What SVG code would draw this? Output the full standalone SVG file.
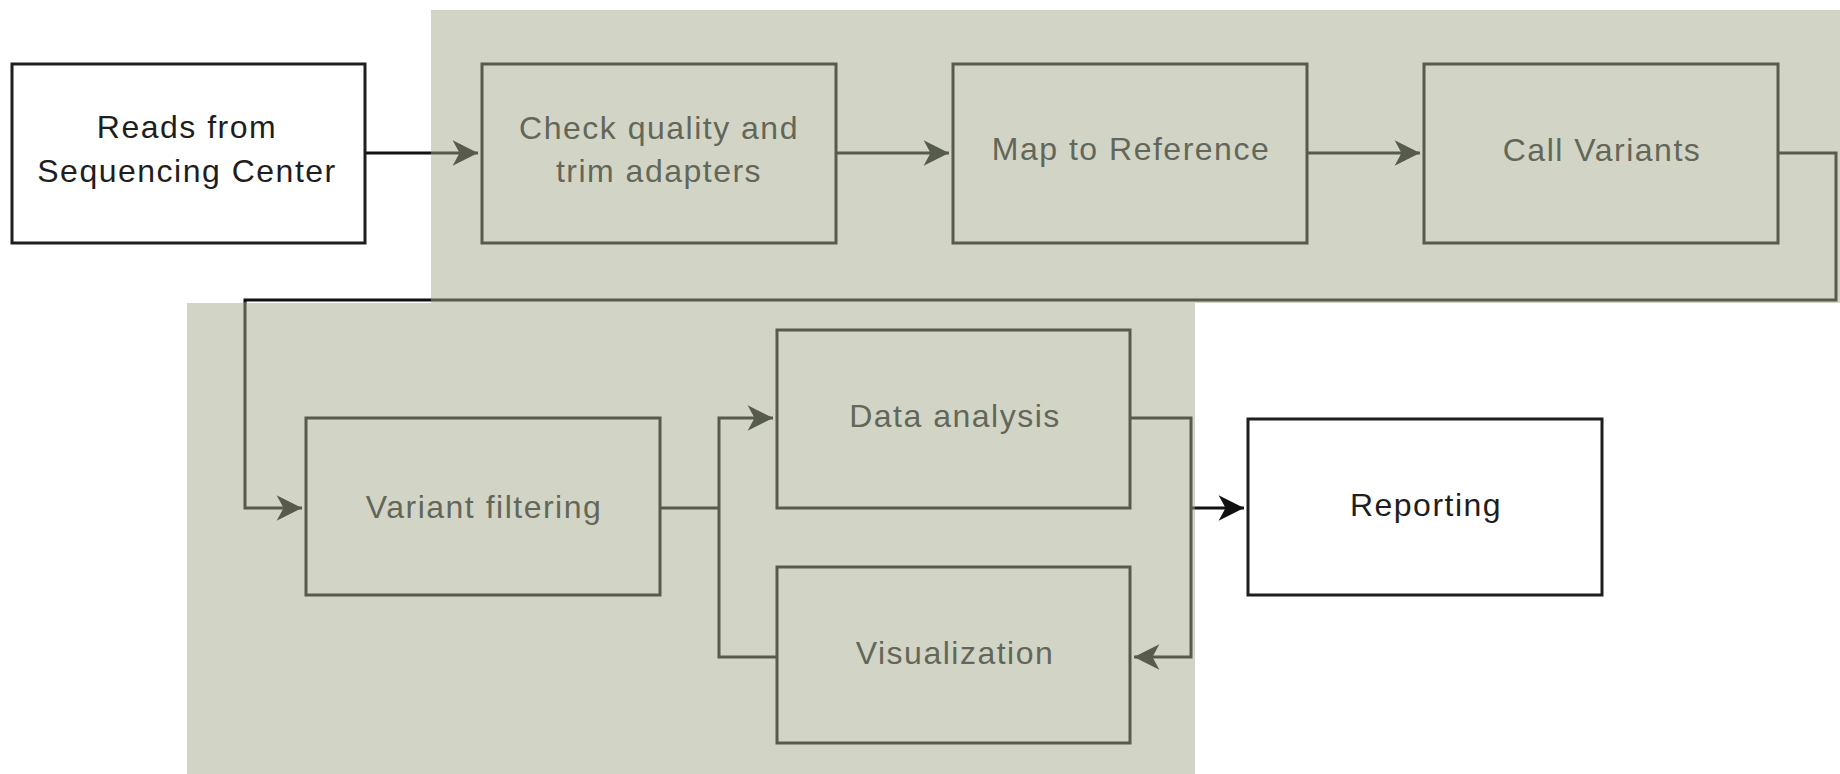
<svg xmlns="http://www.w3.org/2000/svg" width="1840" height="774" viewBox="0 0 1840 774">
<style>
.band{fill:#d2d5c6;stroke:none}
.box{fill:none;stroke:#575b4b;stroke-width:3}
.boxw{fill:#ffffff;stroke:#1e1e1e;stroke-width:3}
.t{font-family:"Liberation Sans",Arial,sans-serif;font-size:32px;letter-spacing:1.5px;text-anchor:middle;fill:#63675a}
.tw{font-family:"Liberation Sans",Arial,sans-serif;font-size:32px;letter-spacing:1.5px;text-anchor:middle;fill:#1e1e1e}
.c{fill:none;stroke:#575b4b;stroke-width:3}
.cb{fill:none;stroke:#111111;stroke-width:3}
</style>
<defs>
<marker id="ag" markerUnits="userSpaceOnUse" markerWidth="30" markerHeight="30" viewBox="-24 -12 26 24" refX="0" refY="0" orient="auto">
<path d="M0,0 L-22,-11 L-16,0 L-22,11 Z" fill="#575b4b"/>
</marker>
<marker id="ab" markerUnits="userSpaceOnUse" markerWidth="30" markerHeight="30" viewBox="-24 -12 26 24" refX="0" refY="0" orient="auto">
<path d="M0,0 L-22,-11 L-16,0 L-22,11 Z" fill="#111111"/>
</marker>
</defs>
<g id="bands">
<rect class="band" x="431" y="10" width="1409" height="293"/>
<rect class="band" x="187" y="303" width="1008" height="471"/>
</g>
<g id="connectors">
<path class="cb" d="M365,153 H431"/>
<path class="c" d="M431,153 H478" marker-end="url(#ag)"/>
<path class="c" d="M836,153 H949" marker-end="url(#ag)"/>
<path class="c" d="M1307,153 H1420" marker-end="url(#ag)"/>
<path class="c" d="M1778,153 H1836 V300 H431"/>
<path class="cb" d="M431,300 H245 V303"/>
<path class="c" d="M245,302 V508 H302" marker-end="url(#ag)"/>
<path class="c" d="M660,508 H719"/>
<path class="c" d="M719,508 V418 H773" marker-end="url(#ag)"/>
<path class="c" d="M777,657 H719 V508"/>
<path class="c" d="M1130,418 H1191 V657 H1134" marker-end="url(#ag)"/>
<path class="c" d="M1191,508 H1195"/>
<path class="cb" d="M1195,508 H1244" marker-end="url(#ab)"/>
</g>
<g id="reads">
<rect class="boxw" x="12" y="64" width="353" height="179"/>
<text class="tw" x="187" y="138">Reads from</text>
<text class="tw" x="187" y="182">Sequencing Center</text>
</g>
<g id="check">
<rect class="box" x="482" y="64" width="354" height="179"/>
<text class="t" x="659" y="139">Check quality and</text>
<text class="t" x="659" y="182">trim adapters</text>
</g>
<g id="map">
<rect class="box" x="953" y="64" width="354" height="179"/>
<text class="t" x="1131" y="160">Map to Reference</text>
</g>
<g id="call">
<rect class="box" x="1424" y="64" width="354" height="179"/>
<text class="t" x="1602" y="161">Call Variants</text>
</g>
<g id="filter">
<rect class="box" x="306" y="418" width="354" height="177"/>
<text class="t" x="484" y="518">Variant filtering</text>
</g>
<g id="analysis">
<rect class="box" x="777" y="330" width="353" height="178"/>
<text class="t" x="955" y="427">Data analysis</text>
</g>
<g id="visualization">
<rect class="box" x="777" y="567" width="353" height="176"/>
<text class="t" x="955" y="664">Visualization</text>
</g>
<g id="reporting">
<rect class="boxw" x="1248" y="419" width="354" height="176"/>
<text class="tw" x="1426" y="516">Reporting</text>
</g>
</svg>
